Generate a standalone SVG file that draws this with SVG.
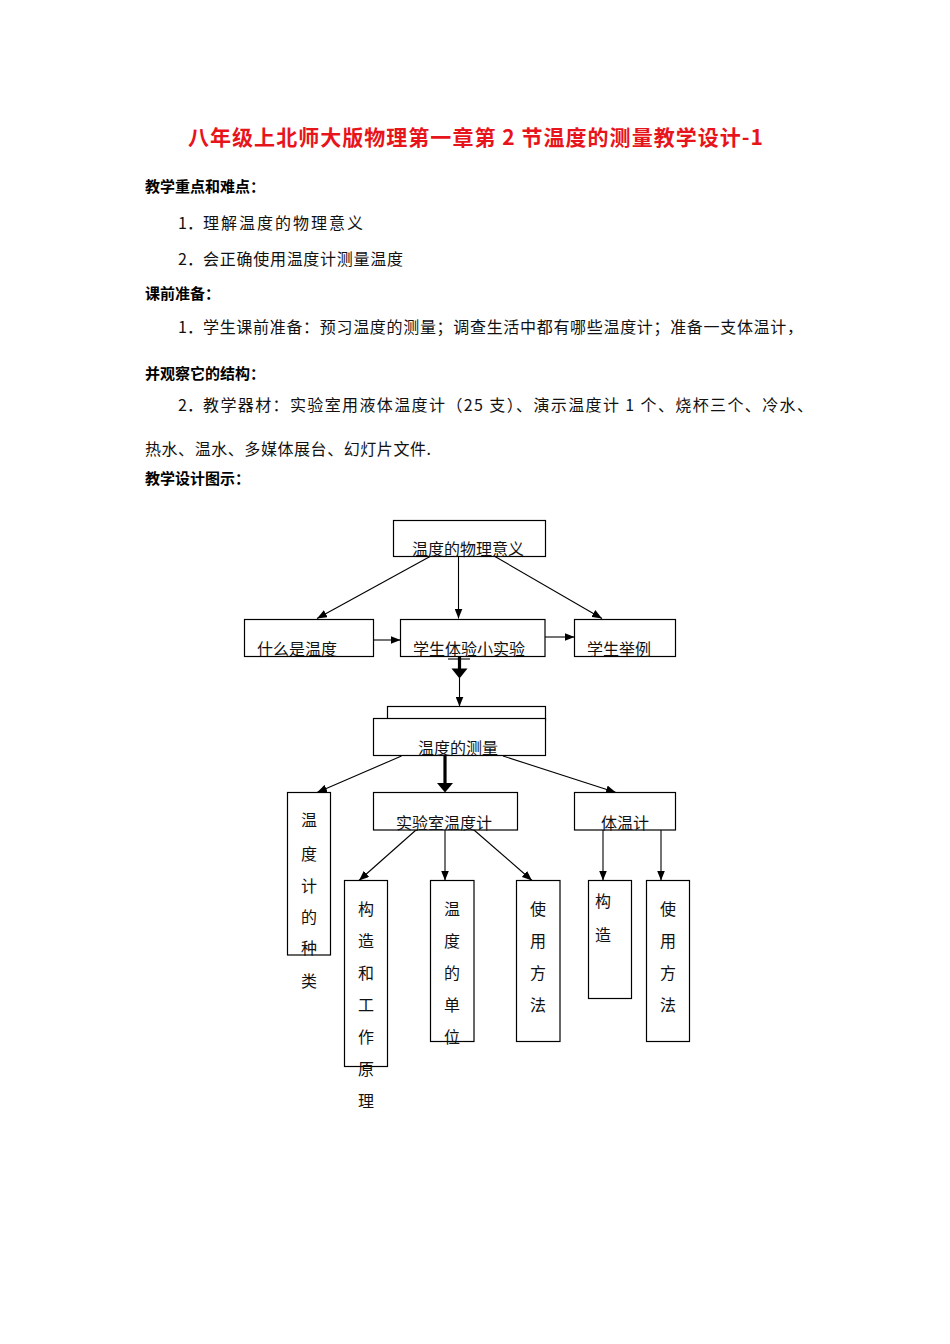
<svg xmlns="http://www.w3.org/2000/svg" width="950" height="1344" viewBox="0 0 950 1344">
<defs>
<style>
.t{font-family:"Noto Sans CJK SC","Liberation Serif",serif;font-size:16px;fill:#111}
.h{font-family:"Noto Sans CJK SC","Liberation Sans",sans-serif;font-size:15px;font-weight:bold;fill:#000}
.title{font-family:"Noto Sans CJK SC","Liberation Sans",sans-serif;font-size:21px;font-weight:bold;fill:#e8141b}
.box{fill:#fff;stroke:#000;stroke-width:1.2}
.n{font-family:"Noto Sans CJK SC","Liberation Serif",serif;font-size:16px;fill:#111}
.v{font-family:"Noto Sans CJK SC","Liberation Serif",serif;font-size:16px;fill:#111;text-anchor:middle}
.c{stroke:#000;stroke-width:1.1;fill:none}
.ck{stroke:#000;stroke-width:3.2;fill:none}
</style>
<marker id="ah" markerUnits="userSpaceOnUse" markerWidth="10" markerHeight="8" refX="10" refY="4" orient="auto">
<path d="M0,0 L10,4 L0,8 z" fill="#000"/>
</marker>
</defs>
<rect width="950" height="1344" fill="#fff"/>

<g id="document-text">
<text class="title" x="188" y="145" textLength="575" lengthAdjust="spacing">八年级上北师大版物理第一章第 2 节温度的测量教学设计-1</text>
<text class="h" x="145" y="192">教学重点和难点：</text>
<text class="t" x="178" y="229">1．</text>
<text class="t" x="203" y="229" textLength="160" lengthAdjust="spacing">理解温度的物理意义</text>
<text class="t" x="178" y="265">2．</text>
<text class="t" x="203" y="265" textLength="200" lengthAdjust="spacing">会正确使用温度计测量温度</text>
<text class="h" x="145" y="299">课前准备：</text>
<text class="t" x="178" y="333">1．</text>
<text class="t" x="203" y="333" textLength="600" lengthAdjust="spacing">学生课前准备：预习温度的测量；调查生活中都有哪些温度计；准备一支体温计，</text>
<text class="h" x="145" y="379">并观察它的结构：</text>
<text class="t" x="178" y="411">2．</text>
<text class="t" x="203" y="411" textLength="610" lengthAdjust="spacing">教学器材：实验室用液体温度计（25 支）、演示温度计 1 个、烧杯三个、冷水、</text>
<text class="t" x="145" y="455" textLength="286" lengthAdjust="spacing">热水、温水、多媒体展台、幻灯片文件.</text>
<text class="h" x="145" y="484">教学设计图示：</text>
</g>

<g id="connectors">
<line class="c" x1="430" y1="556.5" x2="317" y2="618.5" marker-end="url(#ah)"/>
<line class="c" x1="458.5" y1="556.5" x2="458.5" y2="618.5" marker-end="url(#ah)"/>
<line class="c" x1="495" y1="556.5" x2="602" y2="618.5" marker-end="url(#ah)"/>
<line class="c" x1="373.5" y1="640" x2="400.5" y2="640" marker-end="url(#ah)"/>
<line class="c" x1="545" y1="637" x2="574.5" y2="637" marker-end="url(#ah)"/>
<line class="c" x1="448" y1="659" x2="470" y2="659"/>
<line class="ck" x1="459.5" y1="657" x2="459.5" y2="670"/>
<polygon points="451.5,668.5 467.5,668.5 459.5,678.5" fill="#000"/>
<line class="c" x1="459.5" y1="678" x2="459.5" y2="706.5" marker-end="url(#ah)"/>
<line class="c" x1="401.5" y1="756" x2="317" y2="792.5" marker-end="url(#ah)"/>
<line class="ck" x1="445" y1="756" x2="445" y2="785"/>
<polygon points="437,783 453,783 445,792.5" fill="#000"/>
<line class="c" x1="503" y1="756" x2="616" y2="792.5" marker-end="url(#ah)"/>
<line class="c" x1="416" y1="830" x2="359" y2="880.5" marker-end="url(#ah)"/>
<line class="c" x1="445" y1="830" x2="445" y2="880.5" marker-end="url(#ah)"/>
<line class="c" x1="474" y1="830" x2="532" y2="880.5" marker-end="url(#ah)"/>
<line class="c" x1="603" y1="830" x2="603" y2="880.5" marker-end="url(#ah)"/>
<line class="c" x1="661" y1="830" x2="661" y2="880.5" marker-end="url(#ah)"/>
</g>

<g id="node-wendu-wuli-yiyi">
<rect class="box" x="393.5" y="520.5" width="152" height="36"/>
<text class="n" x="412" y="555">温度的物理意义</text>
</g>
<g id="node-shenme-shi-wendu">
<rect class="box" x="244.5" y="619.5" width="129" height="37"/>
<text class="n" x="257" y="655">什么是温度</text>
</g>
<g id="node-xuesheng-tiyan">
<rect class="box" x="400.5" y="619.5" width="144.5" height="37"/>
<text class="n" x="413" y="655">学生体验小实验</text>
</g>
<g id="node-xuesheng-juli">
<rect class="box" x="574.5" y="619.5" width="101" height="37"/>
<text class="n" x="587" y="655">学生举例</text>
</g>
<g id="node-wendu-celiang">
<rect class="box" x="387.5" y="706.5" width="158" height="14"/>
<rect class="box" x="373.5" y="718.5" width="172" height="37"/>
<text class="n" x="418" y="754">温度的测量</text>
</g>
<g id="node-wenduji-zhonglei">
<rect class="box" x="287.5" y="792.5" width="43" height="162.5"/>
<text class="v" x="309" y="826">温</text>
<text class="v" x="309" y="860">度</text>
<text class="v" x="309" y="892">计</text>
<text class="v" x="309" y="923">的</text>
<text class="v" x="309" y="954">种</text>
<text class="v" x="309" y="987">类</text>
</g>
<g id="node-shiyanshi-wenduji">
<rect class="box" x="373.5" y="792.5" width="144" height="37.5"/>
<text class="n" x="396" y="829">实验室温度计</text>
</g>
<g id="node-tiwenji">
<rect class="box" x="574.5" y="792.5" width="101" height="37.5"/>
<text class="n" x="601" y="829">体温计</text>
</g>
<g id="node-gouzao-yuanli">
<rect class="box" x="344.5" y="880.5" width="43" height="186"/>
<text class="v" x="366" y="915">构</text>
<text class="v" x="366" y="947">造</text>
<text class="v" x="366" y="979">和</text>
<text class="v" x="366" y="1011">工</text>
<text class="v" x="366" y="1043">作</text>
<text class="v" x="366" y="1075">原</text>
<text class="v" x="366" y="1107">理</text>
</g>
<g id="node-wendu-danwei">
<rect class="box" x="430.5" y="880.5" width="43.5" height="161"/>
<text class="v" x="452" y="915">温</text>
<text class="v" x="452" y="947">度</text>
<text class="v" x="452" y="979">的</text>
<text class="v" x="452" y="1011">单</text>
<text class="v" x="452" y="1043">位</text>
</g>
<g id="node-shiyong-fangfa-1">
<rect class="box" x="516.5" y="880.5" width="43.5" height="161"/>
<text class="v" x="538" y="915">使</text>
<text class="v" x="538" y="947">用</text>
<text class="v" x="538" y="979">方</text>
<text class="v" x="538" y="1011">法</text>
</g>
<g id="node-gouzao-2">
<rect class="box" x="588.5" y="880.5" width="43" height="118"/>
<text class="v" x="603" y="907">构</text>
<text class="v" x="603" y="941">造</text>
</g>
<g id="node-shiyong-fangfa-2">
<rect class="box" x="646.5" y="880.5" width="43" height="161"/>
<text class="v" x="668" y="915">使</text>
<text class="v" x="668" y="947">用</text>
<text class="v" x="668" y="979">方</text>
<text class="v" x="668" y="1011">法</text>
</g>
</svg>
